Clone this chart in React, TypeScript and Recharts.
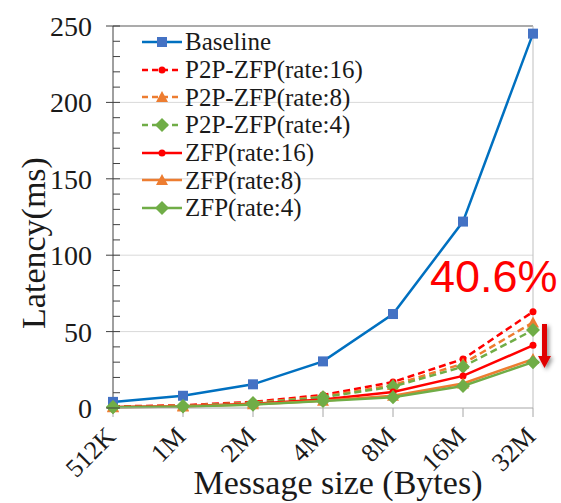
import React from 'react';
import { LineChart, Line, XAxis, YAxis, CartesianGrid, ReferenceLine } from 'recharts';

const categories = ['512K', '1M', '2M', '4M', '8M', '16M', '32M'];
const baseline = [4, 8, 15.5, 30.5, 61.5, 122, 245];
const p2p16 = [1, 1.8, 4, 8.5, 17, 32, 63];
const p2p8 = [0.8, 1.5, 3.5, 7.5, 15, 29, 56];
const p2p4 = [0.7, 1.3, 3.2, 7, 14, 27, 51];
const zfp16 = [0.6, 1.1, 2.8, 5.5, 10.5, 21, 41];
const zfp8 = [0.5, 1, 2.4, 4.8, 8, 16, 32];
const zfp4 = [0.5, 0.9, 2.2, 4.5, 7, 14.4, 30];
const yTicks = [0, 10, 20, 30, 40, 50, 60, 70, 80, 90, 100, 110, 120, 130, 140, 150, 160, 170, 180, 190, 200, 210, 220, 230, 240, 250];
const gridValues = [50, 100, 150, 200];
const annotation = '40.6%';
const xTitle = 'Message size (Bytes)';
const yTitle = 'Latency(ms)';

type Shape = 'square' | 'circle' | 'triangle' | 'diamond';
interface Series { key: string; name: string; values: number[]; color: string; marker: string; shape: Shape; dashed: boolean; }

const series: Series[] = [
  { key: 'baseline', name: 'Baseline', values: baseline, color: '#0070C0', marker: '#4472C4', shape: 'square', dashed: false },
  { key: 'p2p16', name: 'P2P-ZFP(rate:16)', values: p2p16, color: '#FF0000', marker: '#FF0000', shape: 'circle', dashed: true },
  { key: 'p2p8', name: 'P2P-ZFP(rate:8)', values: p2p8, color: '#ED7D31', marker: '#ED7D31', shape: 'triangle', dashed: true },
  { key: 'p2p4', name: 'P2P-ZFP(rate:4)', values: p2p4, color: '#70AD47', marker: '#70AD47', shape: 'diamond', dashed: true },
  { key: 'zfp16', name: 'ZFP(rate:16)', values: zfp16, color: '#FF0000', marker: '#FF0000', shape: 'circle', dashed: false },
  { key: 'zfp8', name: 'ZFP(rate:8)', values: zfp8, color: '#ED7D31', marker: '#ED7D31', shape: 'triangle', dashed: false },
  { key: 'zfp4', name: 'ZFP(rate:4)', values: zfp4, color: '#70AD47', marker: '#70AD47', shape: 'diamond', dashed: false },
];

const data = categories.map((c, i) => {
  const row: Record<string, number | string> = { cat: c };
  series.forEach((s) => { row[s.key] = s.values[i]; });
  return row;
});

const SERIF = '"Liberation Serif", "Times New Roman", serif';
const INK = '#1a1a1a';

function markerEl(shape: Shape, cx: number, cy: number, fill: string, k?: string) {
  switch (shape) {
    case 'square':
      return <rect key={k} x={cx - 5} y={cy - 5} width={10} height={10} fill={fill} />;
    case 'circle':
      return <circle key={k} cx={cx} cy={cy} r={3.5} fill={fill} />;
    case 'triangle':
      return <polygon key={k} points={`${cx},${cy - 6} ${cx + 6},${cy + 5} ${cx - 6},${cy + 5}`} fill={fill} />;
    case 'diamond':
    default:
      return <polygon key={k} points={`${cx},${cy - 7} ${cx + 7},${cy} ${cx},${cy + 7} ${cx - 7},${cy}`} fill={fill} />;
  }
}

const makeDot = (s: Series) => (props: any) => {
  const { cx, cy, index } = props;
  if (cx == null || cy == null) return <g key={`${s.key}-${index}`} />;
  return markerEl(s.shape, cx, cy, s.marker, `${s.key}-${index}`);
};

const YTick = (props: any) => {
  const { x, y, payload } = props;
  const v = payload.value as number;
  const major = v % 50 === 0;
  return (
    <g>
      <line x1={major ? x - 7 : x} x2={x + 7} y1={y} y2={y} stroke="#404040" strokeWidth={1} />
      {major && (
        <text x={x - 21} y={y} dy="0.36em" textAnchor="end" fontFamily={SERIF} fontSize={28} fill={INK}>
          {v}
        </text>
      )}
    </g>
  );
};

const XTick = (props: any) => {
  const { x, y, payload } = props;
  const ax = x + 4;
  const ay = y + 19;
  return (
    <text x={ax} y={ay} textAnchor="end" fontFamily={SERIF} fontSize={26} fill={INK} transform={`rotate(-45 ${ax} ${ay})`}>
      {payload.value}
    </text>
  );
};

const YTitle = (props: any) => {
  const vb = props.viewBox || {};
  const cy = (vb.y ?? 26) + (vb.height ?? 382) / 2 + 26;
  const bx = 45;
  return (
    <text x={bx} y={cy} textAnchor="middle" fontFamily={SERIF} fontSize={34} fill={INK} transform={`rotate(-90 ${bx} ${cy})`}>
      {yTitle}
    </text>
  );
};

const XTitle = (props: any) => {
  const vb = props.viewBox || {};
  const cx = (vb.x ?? 113) + (vb.width ?? 420) / 2 + 15;
  return (
    <text x={cx} y={494} textAnchor="middle" fontFamily={SERIF} fontSize={34} fill={INK}>
      {xTitle}
    </text>
  );
};

const LegendBox = () => (
  <div style={{ position: 'absolute', left: 141, top: 28, fontFamily: SERIF, fontSize: 25, color: INK }}>
    {series.map((s) => (
      <div key={s.key} style={{ display: 'flex', alignItems: 'center', height: 27.7, whiteSpace: 'nowrap' }}>
        <svg width={44} height={20} style={{ flex: 'none' }}>
          <line x1={1} x2={41} y1={10} y2={10} stroke={s.color} strokeWidth={2.5} strokeDasharray={s.dashed ? '6 4' : undefined} />
          {markerEl(s.shape, 21, 10, s.marker)}
        </svg>
        <span style={{ lineHeight: '27px' }}>{s.name}</span>
      </div>
    ))}
  </div>
);

export default function App() {
  return (
    <div style={{ position: 'absolute', left: 0, top: 0, width: 561, height: 503, background: '#fff', overflow: 'hidden' }}>
      <LineChart width={561} height={503} data={data} margin={{ top: 26, right: 28, left: 0, bottom: 0 }}>
        <CartesianGrid vertical={false} horizontalValues={gridValues} stroke="#d9d9d9" />
        <XAxis
          dataKey="cat"
          height={95}
          tick={<XTick />}
          tickSize={9}
          tickLine={{ stroke: '#a6a6a6' }}
          axisLine={{ stroke: '#a6a6a6' }}
          interval={0}
          label={<XTitle />}
        />
        <YAxis
          width={113}
          domain={[0, 250]}
          ticks={yTicks}
          interval={0}
          tick={<YTick />}
          tickSize={0}
          tickMargin={0}
          tickLine={false}
          axisLine={{ stroke: '#404040' }}
          label={<YTitle />}
        />
        <ReferenceLine y={250} stroke="#595959" strokeWidth={1.2} />
        <ReferenceLine x="32M" stroke="#bfbfbf" strokeWidth={1} />
        {series.map((s) => (
          <Line
            key={s.key}
            type="linear"
            dataKey={s.key}
            name={s.name}
            stroke={s.color}
            strokeWidth={2.5}
            strokeDasharray={s.dashed ? '7 4' : undefined}
            dot={makeDot(s)}
            activeDot={false}
            isAnimationActive={false}
          />
        ))}
      </LineChart>
      <LegendBox />
      <div style={{ position: 'absolute', left: 430, top: 252, fontFamily: '"Liberation Sans", Arial, sans-serif', fontSize: 45, color: '#FF0000', lineHeight: '50px', whiteSpace: 'nowrap' }}>
        {annotation}
      </div>
      <svg style={{ position: 'absolute', left: 530, top: 318, overflow: 'visible' }} width={30} height={60}>
        <defs>
          <filter id="sh" x="-50%" y="-50%" width="200%" height="200%">
            <feDropShadow dx={2} dy={2} stdDeviation={2} floodColor="#000" floodOpacity={0.45} />
          </filter>
        </defs>
        <g filter="url(#sh)">
          <rect x={12} y={6} width={5} height={36} fill="#E00000" />
          <polygon points="8,38 21,38 14.5,50" fill="#E00000" />
        </g>
      </svg>
    </div>
  );
}
